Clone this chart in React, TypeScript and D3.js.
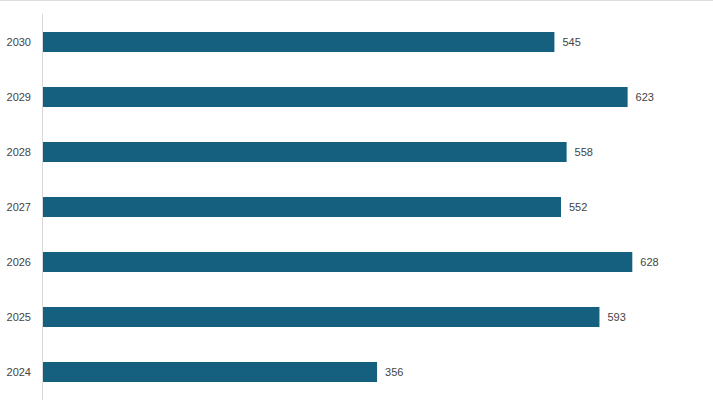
import React from "react";
import * as d3 from "d3";

const years = ["2030", "2029", "2028", "2027", "2026", "2025", "2024"];
const values = [545, 623, 558, 552, 628, 593, 356];

const W = 713;
const H = 410;

export default function App() {
  const x = d3.scaleLinear().domain([0, 714]).range([43, 713]);
  const y = d3.scaleBand().domain(years).range([14.5, 399.5]).paddingInner(0.636).paddingOuter(0.318);
  return (
    <svg width={W} height={H} style={{ position: "absolute", left: 0, top: 0, background: "#fff" }} fontFamily="'Liberation Sans', Arial, sans-serif">
      <line x1={0} x2={W} y1={0.5} y2={0.5} stroke="#ddd" />
      <line x1={42.5} x2={42.5} y1={14} y2={400} stroke="#d9d9d9" />
      {years.map((yr, i) => (
        <g key={yr}>
          <rect x={x(0)} y={y(yr)} width={x(values[i]) - x(0)} height={y.bandwidth()} fill="#16607f" />
          <text x={x(values[i]) + 8} y={y(yr)! + y.bandwidth() / 2} dy="0.36em" fontSize={11} fill="#444">{values[i]}</text>
          <text x={31} y={y(yr)! + y.bandwidth() / 2} dy="0.32em" textAnchor="end" fontSize={11} fill="#444">{yr}</text>
        </g>
      ))}
    </svg>
  );
}
